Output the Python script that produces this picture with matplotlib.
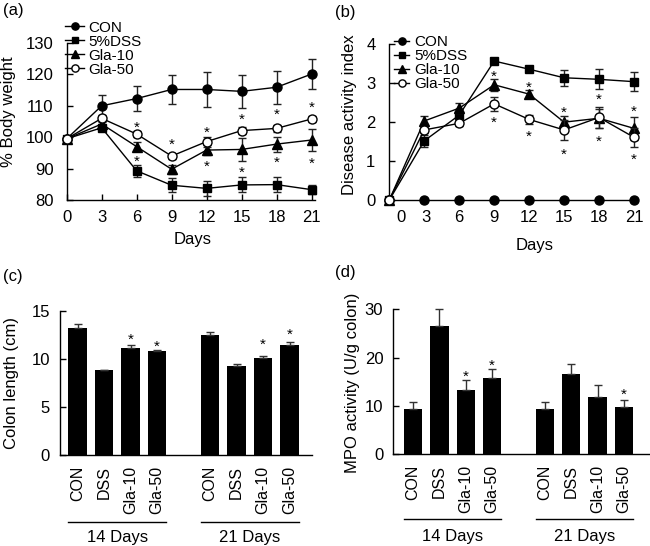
import matplotlib
matplotlib.use("Agg")
import matplotlib.pyplot as plt
import numpy as np
from matplotlib.transforms import blended_transform_factory

plt.rcParams['font.family'] = ['Liberation Sans', 'DejaVu Sans']
plt.rcParams['font.size'] = 12
plt.rcParams['axes.linewidth'] = 1.0

# ---------------- data ----------------
days = [0, 3, 6, 9, 12, 15, 18, 21]
series_names = ["CON", "5%DSS", "Gla-10", "Gla-50"]

# (a) % body weight
a_con = [99.5, 110.0, 112.3, 115.2, 115.2, 114.6, 115.9, 120.1]
a_con_err = [0, 3.5, 4.0, 4.5, 5.7, 5.3, 5.3, 4.8]
a_dss = [99.5, 103.0, 89.3, 84.7, 83.7, 84.8, 84.9, 83.3]
a_dss_err = [0, 1.0, 2.0, 2.2, 2.3, 2.4, 2.4, 1.5]
a_g10 = [99.5, 104.2, 97.0, 89.8, 95.9, 96.1, 97.8, 99.1]
a_g10_err = [0, 1.0, 1.5, 1.5, 1.6, 3.7, 2.4, 3.5]
a_g50 = [99.5, 106.0, 101.0, 94.0, 98.6, 102.1, 102.8, 105.8]
a_g50_err = [0, 1.0, 1.0, 0.8, 1.6, 1.0, 1.0, 1.0]
a_star_days = [6, 6, 9, 12, 12, 15, 15, 18, 18, 21, 21]
a_star_y = [104.6, 93.8, 99.1, 102.8, 92.2, 107.0, 90.3, 108.7, 93.5, 110.8, 93.0]

# (b) disease activity index
b_con = [0, 0, 0, 0, 0, 0, 0, 0]
b_con_err = [0, 0, 0, 0, 0, 0, 0, 0]
b_dss = [0, 1.52, 2.18, 3.57, 3.36, 3.14, 3.10, 3.04]
b_dss_err = [0, 0.15, 0.15, 0.06, 0.08, 0.20, 0.26, 0.24]
b_g10 = [0, 2.03, 2.36, 2.96, 2.72, 2.00, 2.10, 1.84]
b_g10_err = [0, 0.13, 0.13, 0.15, 0.10, 0.15, 0.25, 0.30]
b_g50 = [0, 1.80, 1.97, 2.47, 2.07, 1.80, 2.12, 1.61]
b_g50_err = [0, 0.08, 0.08, 0.18, 0.12, 0.25, 0.28, 0.25]
b_star_days = [9, 9, 12, 12, 15, 15, 18, 18, 21, 21]
b_star_y = [3.3, 2.1, 3.0, 1.76, 2.36, 1.28, 2.7, 1.63, 2.4, 1.16]
b_tick_labels = ["0", "3", "6", "9", "12", "15", "18", "21"]

# (c) colon length, (d) MPO activity
groups = ["CON", "DSS", "Gla-10", "Gla-50"]
group_titles = ["14 Days", "21 Days"]
c_14 = [13.26, 8.85, 11.18, 10.83]
c_14_err = [0.4, 0.05, 0.28, 0.07]
c_21 = [12.5, 9.27, 10.1, 11.46]
c_21_err = [0.28, 0.2, 0.17, 0.3]
c_star_14 = [None, None, 12.5, 11.8]
c_star_21 = [None, None, 11.95, 13.05]

d_14 = [9.26, 26.5, 13.27, 15.7]
d_14_err = [1.6, 3.5, 2.05, 1.85]
d_21 = [9.26, 16.5, 11.75, 9.8]
d_21_err = [1.6, 2.1, 2.55, 1.4]
d_star_14 = [None, None, 17.1, 19.4]
d_star_21 = [None, None, None, 13.3]

# ---------------- figure ----------------
W, H = 650, 546
fig = plt.figure(figsize=(W / 100, H / 100), dpi=100)


def rect(l, t, r, b):
    return [l / W, 1 - b / H, (r - l) / W, (b - t) / H]


styles = [dict(marker='o', mfc='black', ms=6.5),
          dict(marker='s', mfc='black', ms=6.2),
          dict(marker='^', mfc='black', ms=7),
          dict(marker='o', mfc='white', ms=6.5)]


def line_panel(ax, ys, errs):
    handles = []
    for i, (y, e) in enumerate(zip(ys, errs)):
        ax.errorbar(days, y, yerr=e, fmt='none', ecolor='#222222', elinewidth=1,
                    capsize=3, capthick=1, zorder=2 + i, clip_on=False)
        h, = ax.plot(days, y, color='black', lw=1, mec='black', mew=1,
                     zorder=3 + i, clip_on=False, label=series_names[i], **styles[i])
        handles.append(h)
    return handles


def add_legend(ax, handles, left_px, top_px, hl):
    ax.legend(handles=handles, loc='upper left',
              bbox_to_anchor=(left_px / W, 1 - top_px / H),
              bbox_transform=fig.transFigure, frameon=False, fontsize=11,
              handlelength=hl, handletextpad=0.3, labelspacing=0.0, borderpad=0,
              borderaxespad=0, markerscale=0.8)


# Panel (a)
axa = fig.add_axes(rect(66.7, 43, 315, 200))
ha = line_panel(axa, [a_con, a_dss, a_g10, a_g50], [a_con_err, a_dss_err, a_g10_err, a_g50_err])
for d, y in zip(a_star_days, a_star_y):
    axa.annotate('*', (d, y), xytext=(0, -3.5), textcoords='offset points',
                 ha='center', va='center', fontsize=11)
axa.set_xlim(0, 21.3)
axa.set_ylim(80, 130)
axa.set_xticks(days)
axa.set_yticks([80, 90, 100, 110, 120, 130])
axa.tick_params(direction='in', length=4, width=1)
axa.tick_params(axis='x', pad=7)
axa.tick_params(axis='y', pad=9.5)
axa.spines[['top', 'right']].set_visible(False)
axa.set_ylabel('% Body weight')
axa.yaxis.set_label_coords(-0.205, 0.56)
axa.set_xlabel('Days')
axa.xaxis.set_label_coords(0.506, -0.205)
add_legend(axa, ha, 65, 20.5, 1.25)

# Panel (b)
axb = fig.add_axes(rect(389.3, 44.3, 648, 200))
hb = line_panel(axb, [b_con, b_dss, b_g10, b_g50], [b_con_err, b_dss_err, b_g10_err, b_g50_err])
for d, y in zip(b_star_days, b_star_y):
    axb.annotate('*', (d, y), xytext=(0, -3.5), textcoords='offset points',
                 ha='center', va='center', fontsize=11)
axb.set_xlim(0, 22.2)
axb.set_ylim(0, 4)
axb.set_xticks([1.0, 3.15] + days[2:], b_tick_labels)
axb.set_yticks([0, 1, 2, 3, 4])
axb.tick_params(direction='in', length=4, width=1)
axb.tick_params(axis='x', length=0, pad=7)
axb.tick_params(axis='y', pad=10)
axb.spines[['top', 'right', 'bottom']].set_visible(False)
axb.set_ylabel('Disease activity index')
axb.yaxis.set_label_coords(-0.125, 0.55)
axb.set_xlabel('Days')
axb.xaxis.set_label_coords(0.56, -0.242)
add_legend(axb, hb, 394, 35.5, 1.0)


def bar_panel(ax, v14, e14, v21, e21, s14, s21, ymax, yticks, line_y, text_y):
    pos14 = np.arange(4)
    pos21 = np.arange(4) + 5
    for pos, v, e, s in ((pos14, v14, e14, s14), (pos21, v21, e21, s21)):
        ax.bar(pos, v, width=0.7, color='black', zorder=2)
        ax.errorbar(pos, v, yerr=[np.zeros(len(e)), e], fmt='none', ecolor='#333333',
                    elinewidth=1, capsize=3, capthick=1, zorder=3, clip_on=False)
        for p, st in zip(pos, s):
            if st is not None:
                ax.annotate('*', (p, st), xytext=(0, -3.5), textcoords='offset points',
                            ha='center', va='center', fontsize=11)
    ax.set_ylim(0, ymax)
    ax.set_yticks(yticks)
    ax.set_xticks(list(pos14) + list(pos21), groups + groups, rotation=90)
    ax.tick_params(direction='in', length=4, width=1)
    ax.tick_params(axis='x', length=0, pad=8, labelsize=11.5)
    ax.spines[['top', 'right']].set_visible(False)
    tr = blended_transform_factory(ax.transData, ax.transAxes)
    for pos, title in ((pos14, group_titles[0]), (pos21, group_titles[1])):
        ax.plot([pos[0] - 0.35, pos[-1] + 0.35], [line_y, line_y], color='black',
                lw=1, transform=tr, clip_on=False)
        ax.text((pos[0] + pos[-1]) / 2, text_y, title, transform=tr,
                ha='center', va='center', fontsize=12)


# Panel (c)
axc = fig.add_axes(rect(60.5, 311, 311.7, 455))
bar_panel(axc, c_14, c_14_err, c_21, c_21_err, c_star_14, c_star_21, 15, [0, 5, 10, 15],
          -0.463, -0.57)
axc.set_xlim(-0.65, 8.83)
axc.tick_params(axis='y', pad=7.7)
axc.set_ylabel('Colon length (cm)')
axc.yaxis.set_label_coords(-0.165, 0.503)

# Panel (d)
axd = fig.add_axes(rect(393.3, 309.3, 650, 454))
bar_panel(axd, d_14, d_14_err, d_21, d_21_err, d_star_14, d_star_21, 30, [0, 10, 20, 30],
          -0.451, -0.57)
axd.set_xlim(-0.75, 8.99)
axd.tick_params(axis='y', pad=7.2)
axd.set_ylabel('MPO activity (U/g colon)')
axd.yaxis.set_label_coords(-0.13, 0.49)

# panel letters
for lab, x, y in (("(a)", 3, 11), ("(b)", 335, 12), ("(c)", 3, 276), ("(d)", 335, 272)):
    fig.text(x / W, 1 - y / H, lab, ha='left', va='center', fontsize=12)

fig.savefig('out.png', dpi=100)
